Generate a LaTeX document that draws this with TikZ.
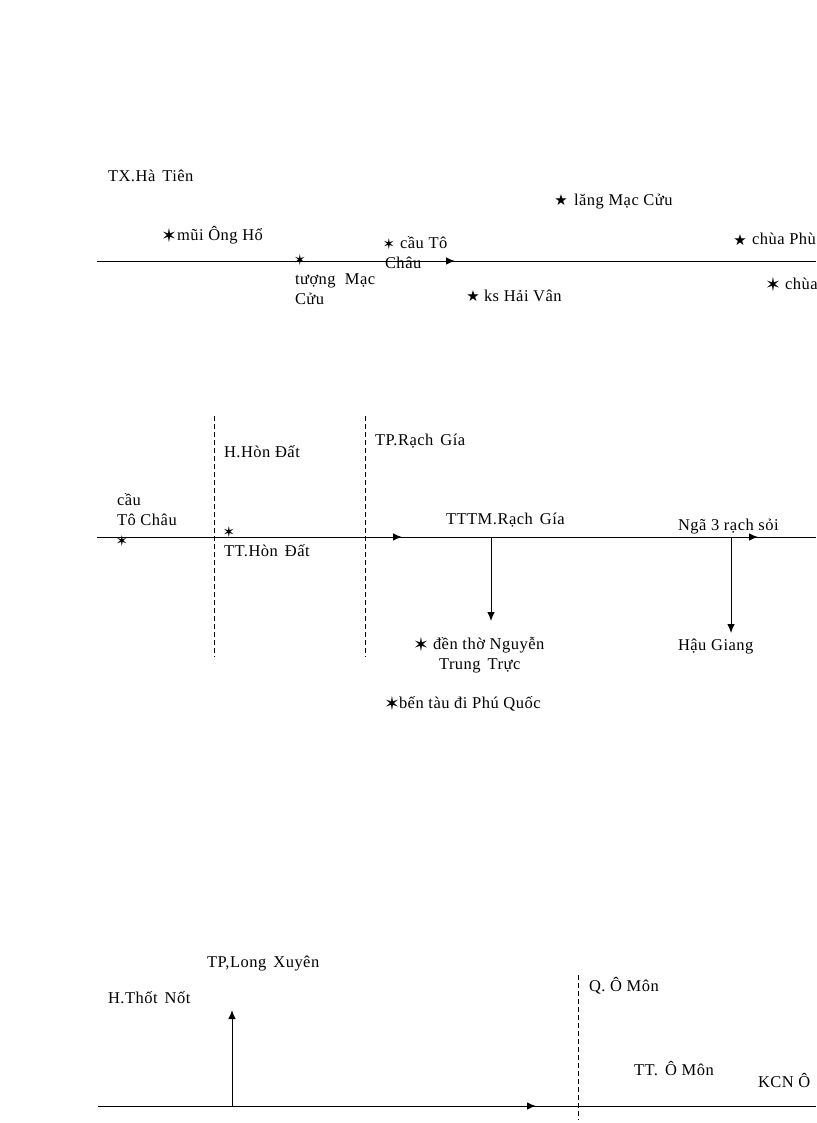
\documentclass[tikz,border=0pt]{standalone}
\usepackage{fontspec}
\setmainfont[LetterSpace=3]{Liberation Serif}
\newfontfamily\symfont{DejaVu Sans}
\newcommand{\gap}{\hspace*{7pt}}
\usetikzlibrary{arrows.meta}
\tikzset{
  every node/.append style={inner sep=0pt,outer sep=0pt,anchor=base west,font=\fontsize{16.5}{18}\selectfont},
  road/.style={line width=1pt},
  border/.style={dash pattern=on 5pt off 3pt,line width=0.8pt},
  tip/.style={-{Latex[length=9pt,width=7.5pt]}},
  stop/.style={font=\symfont\fontsize{15}{15}\selectfont,anchor=center},
  spot/.style={font=\symfont\fontsize{19}{19}\selectfont,anchor=center},
  hotel/.style={font=\symfont\fontsize{15}{15}\selectfont,anchor=center}
}
\begin{document}
\begin{tikzpicture}[x=1pt,y=-1pt]
    \useasboundingbox[clip] (0,0) rectangle (816,1123);
    % first leg
    \node at (108,181.7) (hatien) {TX.Hà\gap Tiên};
    \node[spot] at (169,235.7) (s1) {✶};
    \node at (177,240.7) (mui) {mũi Ông Hổ};
    \node[hotel] at (561,199.7) (s2) {★};
    \node at (574,205.7) (lang) {lăng Mạc Cửu};
    \node[hotel] at (740,239.7) (s3) {★};
    \node at (752,244.7) (phu) {chùa Phù};
    \node[spot] at (773,284.7) (s4) {✶};
    \node at (785,289.7) (chua) {chùa};
    \node[hotel] at (473,295.7) (s5) {★};
    \node at (484,301.7) (ks) {ks Hải Vân};
    \node[stop] at (300,259.7) (m1) {✶};
    \node at (295,284.7) (tuong) {tượng~~Mạc};
    \node at (295,304.7) (cuu) {Cửu};
    \node[stop] at (389,243.7) (m2) {✶};
    \node at (400,248.7) (cau) {cầu Tô};
    \node at (385,268.7) (chau) {Châu};
    \coordinate (a1) at (97,261);
    \coordinate (a2) at (455,261);
    \coordinate (a3) at (816,261);
    \draw[road] (a1) -- (a3);
    \draw[road,tip] (a1) -- (a2);

    % second leg
    \node at (117,505.7) (cau2) {cầu};
    \node at (117,525.7) (tochau) {Tô Châu};
    \node[stop] at (122,540.7) (m3) {✶};
    \node[stop] at (229,531.7) (m4) {✶};
    \node at (224,457.7) (hondat) {H.Hòn Đất};
    \node at (224,556.7) (tthd) {TT.Hòn\gap Đất};
    \node at (375,445.7) (rachgia) {TP.Rạch\gap Gía};
    \node at (446,524.7) (tttm) {TTTM.Rạch\gap Gía};
    \node at (678,530.7) (nga3) {Ngã 3 rạch sỏi};
    \node[spot] at (421,644.7) (s6) {✶};
    \node at (433,649.7) (den) {đền thờ Nguyễn};
    \node at (439,669.7) (trung) {Trung\gap Trực};
    \node[spot] at (392,703.7) (s7) {✶};
    \node at (399,708.7) (ben) {bến tàu đi Phú Quốc};
    \node at (678,650.7) (haugiang) {Hậu Giang};
    \coordinate (b1) at (97,537);
    \coordinate (b2) at (402,537);
    \coordinate (b3) at (758,537);
    \coordinate (b4) at (816,537);
    \coordinate (b5) at (491,537);
    \coordinate (b6) at (491,621);
    \coordinate (b7) at (731,537);
    \coordinate (b8) at (731,633);
    \draw[road] (b1) -- (b4);
    \draw[road,tip] (b1) -- (b2);
    \draw[road,tip] (b2) -- (b3);
    \draw[road,tip] (b5) -- (b6);
    \draw[road,tip] (b7) -- (b8);
    \coordinate (d1) at (214,416);
    \coordinate (d2) at (214,657);
    \coordinate (d3) at (365,416);
    \coordinate (d4) at (365,657);
    \draw[border] (d1) -- (d2);
    \draw[border] (d3) -- (d4);

    % third leg
    \node at (207,967.7) (longxuyen) {TP,Long\gap Xuyên};
    \node at (108,1003.7) (thotnot) {H.Thốt\gap Nốt};
    \node at (589,991.7) (qomon) {Q.~Ô Môn};
    \node at (634,1075.7) (ttomon) {TT.\gap Ô Môn};
    \node at (758,1087.7) (kcn) {KCN Ô};
    \coordinate (c1) at (98,1106);
    \coordinate (c2) at (536,1106);
    \coordinate (c3) at (816,1106);
    \coordinate (c4) at (232,1106);
    \coordinate (c5) at (232,1010);
    \coordinate (d5) at (578,975);
    \coordinate (d6) at (578,1120);
    \draw[road] (c1) -- (c3);
    \draw[road,tip] (c1) -- (c2);
    \draw[road,tip] (c4) -- (c5);
    \draw[border] (d5) -- (d6);
\end{tikzpicture}
\end{document}
